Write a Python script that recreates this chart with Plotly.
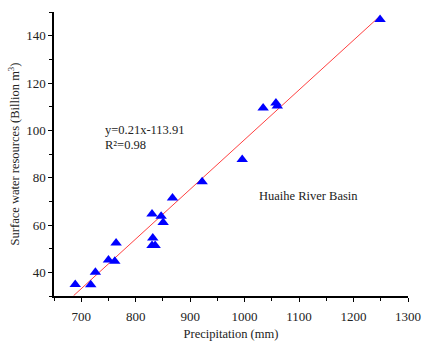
import plotly.graph_objects as go

precip = [689, 717.5, 726, 750, 761.6, 764, 830, 831.4, 830, 835.7, 846.7, 850.4, 867.6,
          922, 995.6, 1034, 1057.5, 1060, 1248.7]
water = [34.9, 34.8, 40.0, 45.2, 44.7, 52.4, 64.6, 54.5, 51.3, 51.3, 63.7, 61.1, 71.4,
         78.3, 87.7, 109.4, 111.5, 110.3, 146.8]
slope, intercept = 0.21, -113.91
fit_x = [686, 1249]
fit_y = [slope * v + intercept for v in fit_x]

FONT = "Liberation Serif"

fig = go.Figure()
fig.add_trace(go.Scatter(x=fit_x, y=fit_y, mode="lines",
                         line=dict(color="#FF4040", width=1), showlegend=False))
fig.add_trace(go.Scatter(x=precip, y=water, mode="markers",
                         marker=dict(symbol="triangle-up", size=10, color="#0000FF",
                                     line=dict(width=0)), showlegend=False))

fig.add_annotation(x=0.138, y=0.586, xref="paper", yref="paper", xanchor="left", yanchor="middle",
                   text="y=0.21x-113.91", showarrow=False, font=dict(family=FONT, size=12.5, color="#222"))
fig.add_annotation(x=0.138, y=0.533, xref="paper", yref="paper", xanchor="left", yanchor="middle",
                   text="R²=0.98", showarrow=False, font=dict(family=FONT, size=12.5, color="#222"))
fig.add_annotation(x=0.72, y=0.352, xref="paper", yref="paper", xanchor="center", yanchor="middle",
                   text="Huaihe River Basin", showarrow=False, font=dict(family=FONT, size=12.5, color="#222"))

axis_common = dict(showline=True, linecolor="black", linewidth=1.5, ticks="outside",
                   ticklen=4, tickwidth=1, tickcolor="black", showgrid=False, zeroline=False,
                   tickfont=dict(family=FONT, size=13, color="#222"), mirror=False,
                   automargin=False)

fig.update_xaxes(range=[650, 1300], tickvals=[700, 800, 900, 1000, 1100, 1200, 1300],
                 minor=dict(tickvals=[650, 750, 850, 950, 1050, 1150, 1250], ticks="outside",
                            ticklen=3, tickcolor="black"),
                 ticklabelstandoff=4,
                 title=dict(text="Precipitation (mm)", font=dict(family=FONT, size=12.5, color="#222"),
                            standoff=7),
                 **axis_common)
fig.update_yaxes(range=[30, 150], tickvals=[40, 60, 80, 100, 120, 140],
                 minor=dict(tickvals=[30, 50, 70, 90, 110, 130, 150], ticks="outside",
                            ticklen=3, tickcolor="black"),
                 title=dict(text="Surface water resources (Billion m<sup>3</sup>)",
                            font=dict(family=FONT, size=12.5, color="#222"), standoff=4),
                 **axis_common)

fig.update_layout(width=423, height=341, margin=dict(l=54, r=15, t=12, b=45),
                  paper_bgcolor="white", plot_bgcolor="white")

fig.write_html("out.html")
